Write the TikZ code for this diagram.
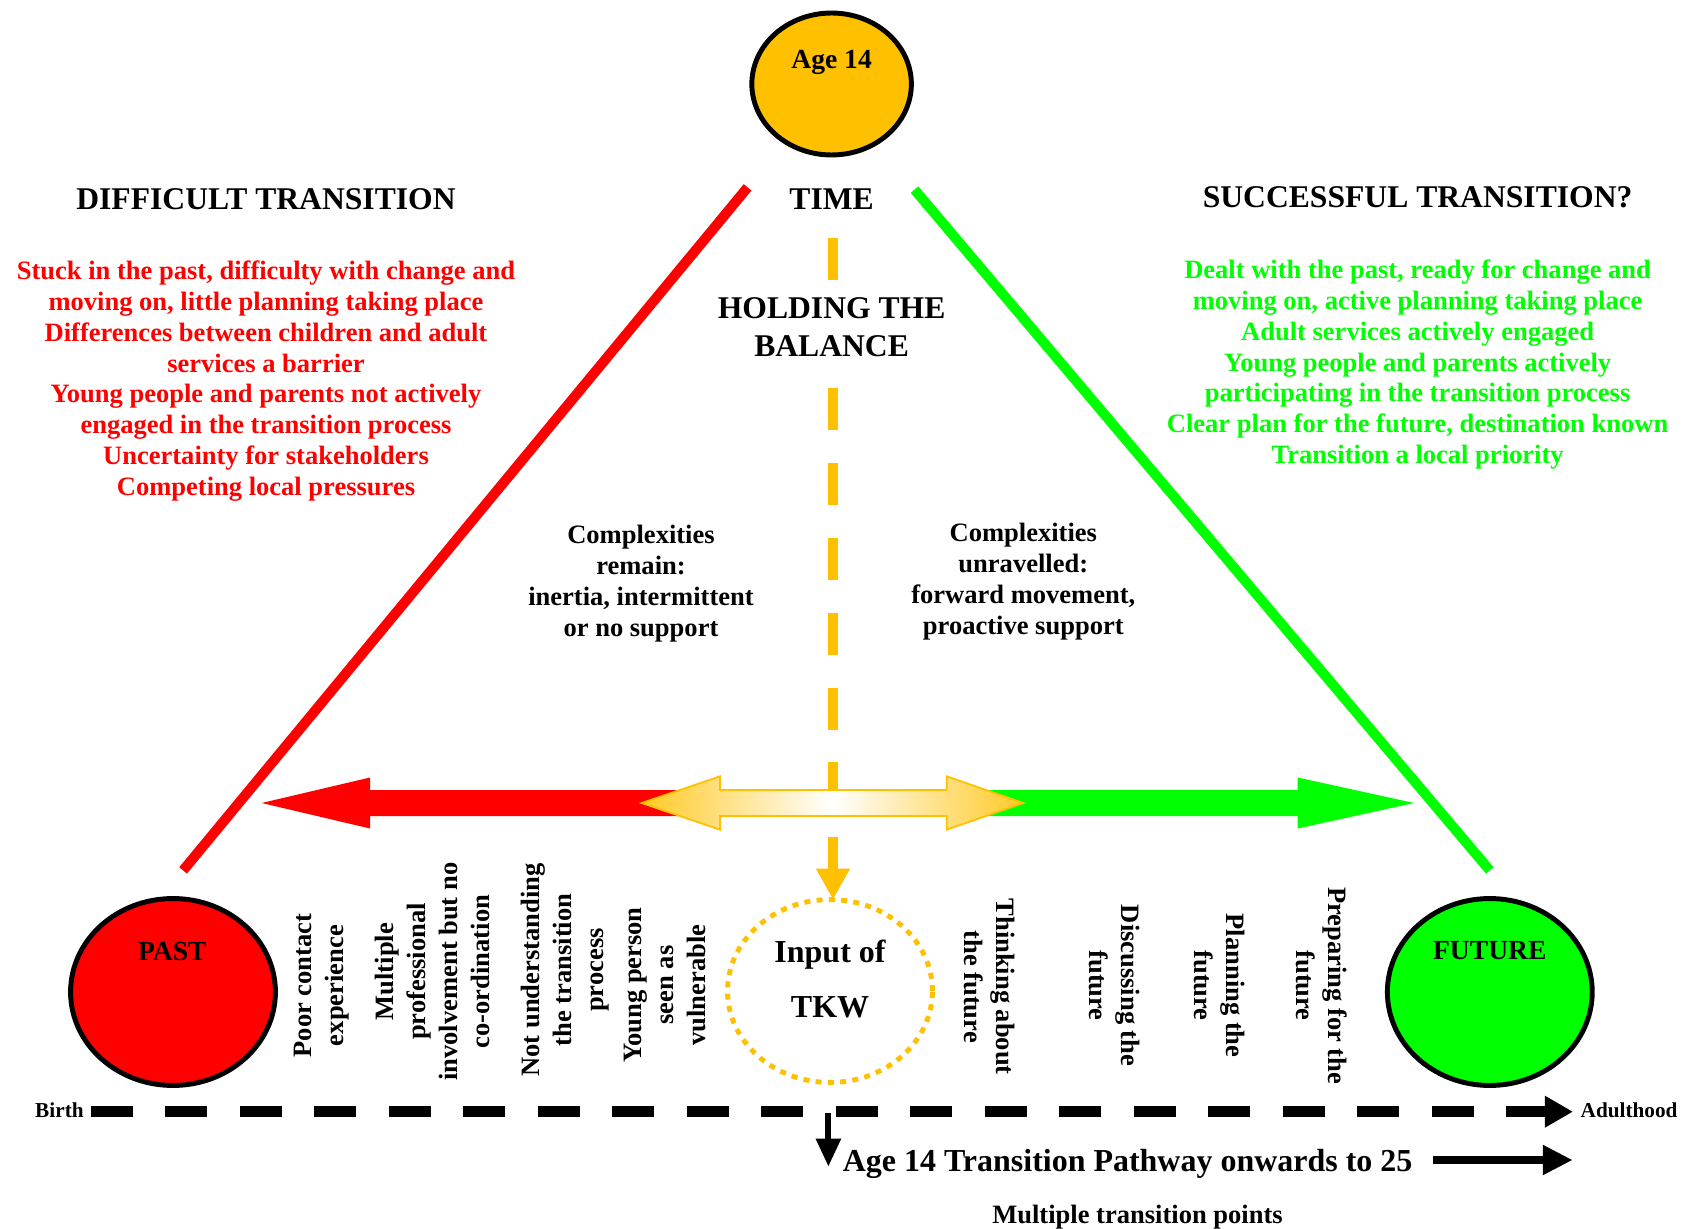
\documentclass[tikz,border=0pt]{standalone}
\usepackage{fontspec}
\setmainfont{Liberation Serif}
\usepackage{tikz}
\usetikzlibrary{shapes.geometric, arrows.meta, positioning, calc}
\definecolor{tkred}{RGB}{255,0,0}
\definecolor{tkgreen}{RGB}{0,255,0}
\definecolor{tkorange}{RGB}{255,192,0}

\begin{document}
\begin{tikzpicture}[
    x=0.02cm, y=-0.02cm,
    blob/.style={ellipse, draw=black, line width=2.8pt, inner sep=0pt, outer sep=0pt,
        minimum width=116.6pt, minimum height=106.4pt},
    head/.style={font=\bfseries\fontsize{18}{21.5}\selectfont, align=center},
    txt/.style={font=\bfseries\fontsize{15.1}{17.5}\selectfont, align=center},
    lbl/.style={font=\bfseries\fontsize{15.7}{18}\selectfont},
    side/.style={font=\bfseries\fontsize{15.1}{18.2}\selectfont, align=center, inner sep=0pt},
    tline/.style={line width=6pt, dash pattern=on 23.9pt off 18.5pt}
]
    \path[use as bounding box, fill=white] (0,0) rectangle (1689,1229);

    % circles
    \node[blob, fill=tkorange, minimum width=90.8pt, minimum height=80.8pt] (age) at (831.6,84) {};
    \node[lbl] at (831.6,62.5) {Age 14};
    \node[blob, fill=tkred] (past) at (173,992) {};
    \node[lbl] at (172.4,951) {PAST};
    \node[blob, fill=tkgreen] (future) at (1489.8,992) {};
    \node[lbl] at (1489.8,951) {FUTURE};
    \node[ellipse, draw=tkorange, line width=2.8pt, dash pattern=on 3.4pt off 3.6pt,
        inner sep=0pt, outer sep=0pt, minimum width=116.6pt, minimum height=104.1pt] (tkw) at (830,991) {};
    \node[head, font=\bfseries\fontsize{18.2}{31.3}\selectfont] at (830,979) {Input of\\TKW};

    % triangle sides
    \coordinate (redtop) at (747.6,187.4);
    \coordinate (redbot) at (183.1,870.4);
    \coordinate (grntop) at (914.5,189.6);
    \coordinate (grnbot) at (1489.8,870.4);
    \draw[tkred, line width=5.7pt] (redtop) -- (redbot);
    \draw[tkgreen, line width=5.7pt] (grntop) -- (grnbot);

    % headings
    \node[head] (difficult) at (266,199.5) {DIFFICULT TRANSITION};
    \node[head] (time) at (831.6,199.5) {TIME};
    \node[head] (success) at (1417.6,197.5) {SUCCESSFUL TRANSITION?};

    % time line through the middle
    \coordinate (baltop) at (833,238.5);
    \coordinate (mid) at (833,803);
    \draw[tkorange, line width=5.7pt, dash pattern=on 23.9pt off 18.7pt] (baltop) -- (mid);
    \node[head, fill=white, inner sep=2pt] (balance) at (831.6,327.5) {HOLDING THE\\BALANCE};

    \node[txt, text=tkred] (pastlist) at (266,381.1) {Stuck in the past, difficulty with change and\\
        moving on, little planning taking place\\
        Differences between children and adult\\
        services a barrier\\
        Young people and parents not actively\\
        engaged in the transition process\\
        Uncertainty for stakeholders\\
        Competing local pressures};
    \node[txt, text=tkgreen] (futurelist) at (1417.6,364.6) {Dealt with the past, ready for change and\\
        moving on, active planning taking place\\
        Adult services actively engaged\\
        Young people and parents actively\\
        participating in the transition process\\
        Clear plan for the future, destination known\\
        Transition a local priority};

    \node[txt, font=\bfseries\fontsize{15.1}{17.6}\selectfont] (remain) at (641,583.9)
        {Complexities\\remain:\\inertia, intermittent\\or no support};
    \node[txt, font=\bfseries\fontsize{15.1}{17.6}\selectfont] (unravel) at (1023.3,581.6)
        {Complexities\\unravelled:\\forward movement,\\proactive support};

    % balance arrows
    \fill[tkred] (mid |- 0,790) -- (370,790) -- (370,777.5) -- (261.7,803)
        -- (370,828.5) -- (370,816) -- (mid |- 0,816) -- cycle;
    \fill[tkgreen] (mid |- 0,790) -- (1297.7,790) -- (1297.7,777.5) -- (1414,803)
        -- (1297.7,828.5) -- (1297.7,816) -- (mid |- 0,816) -- cycle;
    \draw[tkorange, line width=1pt, left color=tkorange!85, right color=tkorange!85, middle color=white]
        (641.7,803) -- (720,776.3) -- (720,790) -- (946.7,790) -- (946.7,776.3) -- (1023.3,803)
        -- (946.7,829.7) -- (946.7,816) -- (720,816) -- (720,829.7) -- cycle;
    \coordinate (drop) at (833,836.7);
    \draw[tkorange, line width=5.7pt, -{Triangle[length=17.6pt, width=18.2pt]}] (drop) -- (drop |- tkw.north);

    % stages
    \node[side, rotate=90] (poor) at (322,985.6) {Poor contact\\experience};
    \node[side, rotate=90] (multi) at (432.8,971.6) {Multiple\\professional\\involvement but no\\co-ordination};
    \node[side, rotate=90] (notund) at (565,970) {Not understanding\\the transition\\process};
    \node[side, rotate=90] (vuln) at (665,985) {Young person\\seen as\\vulnerable};
    \node[side, rotate=-90] (think) at (990,986.7) {Thinking about\\the future};
    \node[side, rotate=-90] (discuss) at (1115,985.6) {Discussing the\\future};
    \node[side, rotate=-90] (plan) at (1219.4,985.6) {Planning the\\future};
    \node[side, rotate=-90] (prepare) at (1321.7,985.6) {Preparing for the\\future};

    % birth to adulthood
    \coordinate (birthpt) at (91,1111.7);
    \coordinate (adultpt) at (1573,1111.7);
    \draw[tline, -{Triangle[length=16pt, width=17pt]}] (birthpt) -- (adultpt);
    \node[font=\bfseries\fontsize{12.1}{14}\selectfont, anchor=east, inner sep=0pt] (birth) at (84,1110.5) {Birth};
    \node[font=\bfseries\fontsize{12.1}{14}\selectfont, anchor=west, inner sep=0pt] (adult) at (1580.3,1110.5) {Adulthood};

    \coordinate (a14top) at (828.4,1112.7);
    \coordinate (a14bot) at (828.4,1166.6);
    \draw[line width=3.4pt, -{Triangle[length=16pt, width=13.7pt]}] (a14top) -- (a14bot);
    \node[head, font=\bfseries\fontsize{18.2}{21}\selectfont, anchor=west, inner sep=0pt] (pathway) at (842.4,1164.2)
        {Age 14 Transition Pathway onwards to 25};
    \coordinate (onfrom) at (1432.7,1160);
    \coordinate (onto) at (1572.7,1160);
    \draw[line width=4.9pt, -{Triangle[length=17pt, width=16pt]}] (onfrom) -- (onto);
    \node[txt] (points) at (1137.5,1217.5) {Multiple transition points};
\end{tikzpicture}
\end{document}
